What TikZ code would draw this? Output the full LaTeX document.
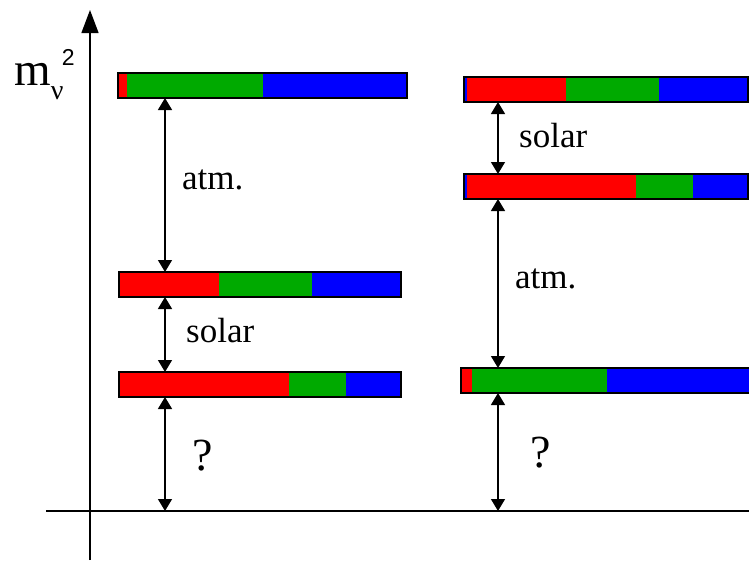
\documentclass[tikz,border=0pt]{standalone}
\usepackage{fontspec}
\setmainfont{Liberation Serif}
\setsansfont{Liberation Sans}
\usepackage{tikz}
\usetikzlibrary{arrows.meta, calc}
\definecolor{nured}{HTML}{FF0000}
\definecolor{nugreen}{HTML}{00AA00}
\definecolor{nublue}{HTML}{0000FF}

\begin{document}
\begin{tikzpicture}[
  x=1pt, y=-1pt,
  lvl/.style={draw, line width=1.2pt, anchor=north west, minimum height=25pt, inner sep=0pt, outer sep=0pt},
  dbl/.style={{Triangle[length=12pt,width=14pt]}-{Triangle[length=12pt,width=14pt]}, line width=1.3pt},
  axis/.style={line width=1.3pt},
  lbl/.style={anchor=base west, inner sep=0pt, font=\fontsize{35}{37}\selectfont},
  qm/.style={anchor=base west, inner sep=0pt, font=\fontsize{46}{48}\selectfont}
]
\useasboundingbox (0,0) rectangle (749,560);

% axes
\draw[axis, -{Triangle[length=23pt,width=17pt]}] (90,560) -- (90,10);
\draw[axis] (46,511) -- (749,511);
\coordinate (xaxis) at (46,511);
\node[anchor=base west, inner sep=0pt, font=\fontsize{47}{47}\selectfont] (mass) at (14,85)
  {m\rlap{\raisebox{-14pt}{\fontsize{28}{28}\selectfont ν}}\kern11pt\raisebox{20pt}{\fontsize{23}{23}\selectfont\sffamily 2}};

% left spectrum
\fill[nured] (118,73) rectangle (127,98);
\fill[nugreen] (127,73) rectangle (263,98);
\fill[nublue] (263,73) rectangle (407,98);
\node[lvl, minimum width=289pt] (L1) at (118,73) {};

\fill[nured] (119,272) rectangle (219,297);
\fill[nugreen] (219,272) rectangle (312,297);
\fill[nublue] (312,272) rectangle (401,297);
\node[lvl, minimum width=282pt] (L2) at (119,272) {};

\fill[nured] (119,372) rectangle (289,397);
\fill[nugreen] (289,372) rectangle (346,397);
\fill[nublue] (346,372) rectangle (401,397);
\node[lvl, minimum width=282pt] (L3) at (119,372) {};

% right spectrum
\fill[nublue] (464,77) rectangle (467,102);
\fill[nured] (467,77) rectangle (566,102);
\fill[nugreen] (566,77) rectangle (659,102);
\fill[nublue] (659,77) rectangle (748,102);
\node[lvl, minimum width=284pt] (R1) at (464,77) {};

\fill[nublue] (464,174) rectangle (467,199);
\fill[nured] (467,174) rectangle (636,199);
\fill[nugreen] (636,174) rectangle (693,199);
\fill[nublue] (693,174) rectangle (748,199);
\node[lvl, minimum width=284pt] (R2) at (464,174) {};

\fill[nured] (461,368) rectangle (472,393);
\fill[nugreen] (472,368) rectangle (607,393);
\fill[nublue] (607,368) rectangle (752,393);
\node[lvl, minimum width=291pt] (R3) at (461,368) {};

% splittings
\coordinate (colL) at (165,0);
\coordinate (colR) at (498,0);
\draw[dbl] (L1.south -| colL) -- (L2.north -| colL);
\draw[dbl] (L2.south -| colL) -- (L3.north -| colL);
\draw[dbl] (L3.south -| colL) -- (colL |- xaxis);
\draw[dbl] (R1.south -| colR) -- (R2.north -| colR);
\draw[dbl] (R2.south -| colR) -- (R3.north -| colR);
\draw[dbl] (R3.south -| colR) -- (colR |- xaxis);

\node[lbl] (atmL) at (182,189) {atm.};
\node[lbl] (solL) at (186,342) {solar};
\node[qm] (qL) at (192,470) {?};
\node[lbl] (solR) at (519,147) {solar};
\node[lbl] (atmR) at (515,288) {atm.};
\node[qm] (qR) at (530,467) {?};
\end{tikzpicture}
\end{document}
